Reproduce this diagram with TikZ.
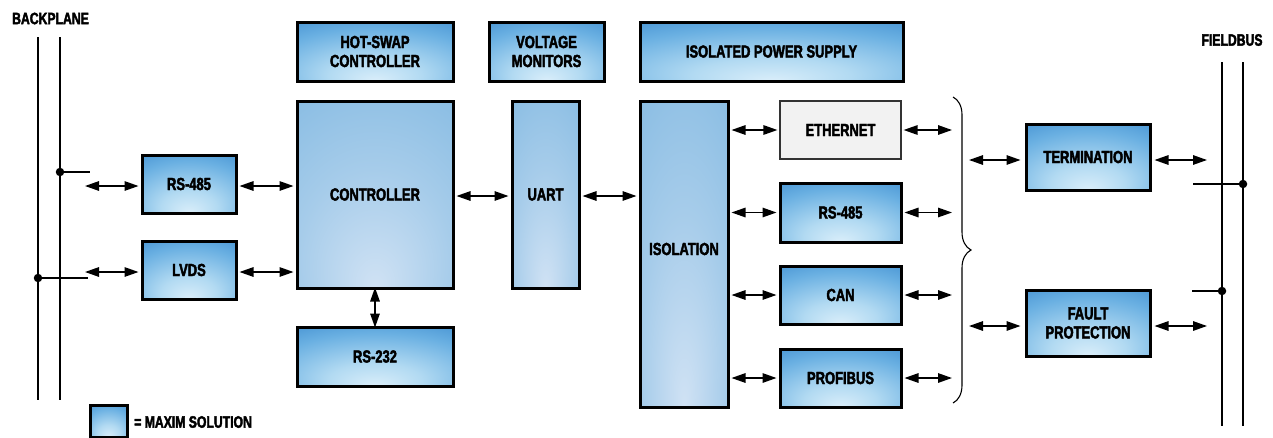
\documentclass[tikz,border=0pt]{standalone}
\usepackage{fontspec}
\setmainfont{Liberation Sans}[FakeStretch=0.74, BoldFeatures={FakeBold=2.4}]
\usetikzlibrary{arrows.meta,decorations.pathreplacing}
\definecolor{ethfill}{HTML}{F2F2F2}
\pgfdeclareradialshading{maximshade}{\pgfpoint{0bp}{-25bp}}{%
  color(0bp)=(rgb,255:red,218;green,238;blue,250);
  color(15bp)=(rgb,255:red,178;green,218;blue,242);
  color(35bp)=(rgb,255:red,106;green,176;blue,226);
  color(50bp)=(rgb,255:red,64;green,142;blue,208);
  color(65bp)=(rgb,255:red,52;green,110;blue,170);
  color(90bp)=(rgb,255:red,40;green,72;blue,110)}
\pgfdeclareradialshading{softshade}{\pgfpoint{0bp}{-25bp}}{%
  color(0bp)=(rgb,255:red,208;green,226;blue,244);
  color(25bp)=(rgb,255:red,166;green,204;blue,234);
  color(50bp)=(rgb,255:red,132;green,186;blue,226);
  color(65bp)=(rgb,255:red,104;green,154;blue,200);
  color(90bp)=(rgb,255:red,66;green,104;blue,142)}
\begin{document}
\begin{tikzpicture}[x=1pt,y=-1pt,
  lbl/.style={font=\bfseries\fontsize{17.5}{19}\selectfont, align=center},
  maxim/.style={lbl, draw=black, line width=3pt, shading=maximshade, inner sep=0pt},
  soft/.style={lbl, draw=black, line width=3pt, shading=softshade, inner sep=0pt},
  plain/.style={lbl, draw=black!80, line width=1.2pt, fill=ethfill, inner sep=0pt},
  arr/.style={line width=1.4pt, {Triangle[length=14pt,width=9.5pt]}-{Triangle[length=14pt,width=9.5pt]}},
  bus/.style={line width=2.6pt},
  stub/.style={line width=1.3pt},
  dot/.style={circle, fill=black, inner sep=0pt, minimum size=8.5pt},
  outlbl/.style={font=\bfseries\fontsize{16.5}{17}\selectfont, inner sep=0pt}]
\useasboundingbox (0,0) rectangle (1273,437);

% labels
\node[outlbl] (bplbl) at (50.5,18.5) {BACKPLANE};
\node[outlbl] (fblbl) at (1232,40) {FIELDBUS};

% backplane bus
\coordinate (bpAt) at (38,37);  \coordinate (bpAb) at (38,400);
\coordinate (bpBt) at (60,37);  \coordinate (bpBb) at (60,400);
\draw[bus] (bpAt) -- (bpAb);
\draw[bus] (bpBt) -- (bpBb);
\node[dot] (dA) at (60,172) {};
\node[dot] (dB) at (38,278) {};
\coordinate (sA) at (90,172);
\coordinate (sB) at (88,278);
\draw[stub] (dA.center) -- (sA);
\draw[stub] (dB.center) -- (sB);

% fieldbus
\coordinate (fbAt) at (1222,62);  \coordinate (fbAb) at (1222,426);
\coordinate (fbBt) at (1243,62);  \coordinate (fbBb) at (1243,426);
\draw[bus] (fbAt) -- (fbAb);
\draw[bus] (fbBt) -- (fbBb);
\node[dot] (dC) at (1243,184) {};
\node[dot] (dD) at (1222,291) {};
\coordinate (sC) at (1193,184);
\coordinate (sD) at (1192,291);
\draw[stub] (dC.center) -- (sC);
\draw[stub] (dD.center) -- (sD);

% boxes
\node[maxim, minimum width=94pt, minimum height=58pt] (rsA) at (189,184) {RS-485};
\node[maxim, minimum width=94pt, minimum height=58pt] (lvds) at (189,270) {LVDS};
\node[maxim, minimum width=156pt, minimum height=59pt] (hot) at (375,51.5) {HOT-SWAP\\CONTROLLER};
\node[maxim, minimum width=115pt, minimum height=59pt] (volt) at (546.5,51.5) {VOLTAGE\\MONITORS};
\node[maxim, minimum width=263pt, minimum height=59pt] (ips) at (771.5,51.5) {ISOLATED POWER SUPPLY};
\node[soft, minimum width=156pt, minimum height=187pt] (ctrl) at (375,194.5) {CONTROLLER};
\node[soft, minimum width=67pt, minimum height=187pt] (uart) at (545.5,194.5) {UART};
\node[soft, minimum width=88pt, minimum height=306pt] (iso) at (684,254) {};
\node[lbl] (isolbl) at (684,249) {ISOLATION};
\node[maxim, minimum width=156pt, minimum height=59pt] (rs232) at (375,356.5) {RS-232};
\node[plain, minimum width=121pt, minimum height=58pt] (eth) at (840.5,130) {ETHERNET};
\node[maxim, minimum width=121pt, minimum height=59pt] (rsB) at (840.5,212.5) {RS-485};
\node[maxim, minimum width=121pt, minimum height=58pt] (can) at (840.5,295) {CAN};
\node[maxim, minimum width=121pt, minimum height=58pt] (prof) at (840.5,378) {PROFIBUS};
\node[maxim, minimum width=124pt, minimum height=66pt] (term) at (1088,157) {TERMINATION};
\node[maxim, minimum width=124pt, minimum height=66pt] (fault) at (1088,323) {FAULT\\PROTECTION};

% legend
\node[maxim, minimum width=37pt, minimum height=32pt] (leg) at (108.5,421) {};
\node[outlbl, anchor=west] (legtxt) at (134,422) {= MAXIM SOLUTION};

% left arrows
\coordinate (lA) at (85,186);
\coordinate (lB) at (85,272);
\draw[arr] (lA) -- ([xshift=-2pt]rsA.west |- lA);
\draw[arr] (lB) -- ([xshift=-2pt]lvds.west |- lB);
\draw[arr] ([xshift=2pt]rsA.east |- lA) -- ([xshift=-2pt]ctrl.west |- lA);
\draw[arr] ([xshift=2pt]lvds.east |- lB) -- ([xshift=-2pt]ctrl.west |- lB);
\draw[arr] ([yshift=2pt]ctrl.south) -- ([yshift=-2pt]rs232.north);
\coordinate (mU) at (545.5,196);
\draw[arr] ([xshift=2pt]ctrl.east |- mU) -- ([xshift=-2pt]uart.west |- mU);
\draw[arr] ([xshift=2pt]uart.east |- mU) -- ([xshift=-2pt]iso.west |- mU);

% isolation to interfaces
\foreach \b in {eth,rsB,can,prof}{
  \draw[arr] ([xshift=2pt]iso.east |- \b.west) -- ([xshift=-2pt]\b.west);
  \coordinate (r\b) at (952,0);
  \draw[arr] ([xshift=2pt]\b.east) -- (r\b |- \b.east);
}

% brace
\coordinate (brT) at (953,97);
\coordinate (brB) at (953,403);
\draw[line width=1.1pt, decorate, decoration={brace, amplitude=18pt}] (brT) -- (brB);

% brace to termination / fault
\coordinate (bT) at (969,160);
\coordinate (bF) at (969,326);
\draw[arr] (bT) -- ([xshift=-4pt]term.west |- bT);
\draw[arr] (bF) -- ([xshift=-4pt]fault.west |- bF);
\coordinate (eT) at (1207,160);
\coordinate (eF) at (1207,326);
\draw[arr] ([xshift=3pt]term.east |- eT) -- (eT);
\draw[arr] ([xshift=3pt]fault.east |- eF) -- (eF);
\end{tikzpicture}
\end{document}
